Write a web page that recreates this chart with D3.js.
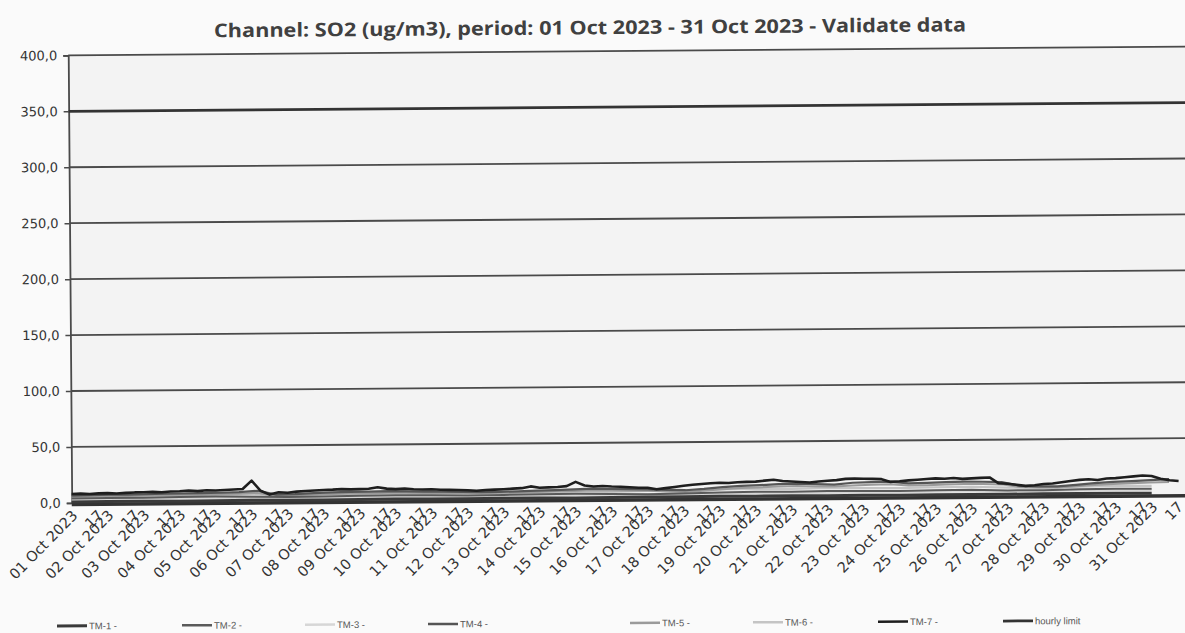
<!DOCTYPE html>
<html><head><meta charset="utf-8">
<script src="https://cdn.jsdelivr.net/npm/d3@7"></script>
<style>html,body{margin:0;padding:0;background:#fafafa;overflow:hidden}</style>
</head><body><svg id="chart" width="1185" height="633"></svg>
<script>
// ---------------- data ----------------
const title = "Channel: SO2 (ug/m3), period: 01 Oct 2023 - 31 Oct 2023 - Validate data";
const yTicks = [0, 50, 100, 150, 200, 250, 300, 350, 400];
const yTickLabels = ["0,0","50,0","100,0","150,0","200,0","250,0","300,0","350,0","400,0"];
const dayLabels = ["01 Oct 2023","02 Oct 2023","03 Oct 2023","04 Oct 2023","05 Oct 2023","06 Oct 2023","07 Oct 2023","08 Oct 2023","09 Oct 2023","10 Oct 2023","11 Oct 2023","12 Oct 2023","13 Oct 2023","14 Oct 2023","15 Oct 2023","16 Oct 2023","17 Oct 2023","18 Oct 2023","19 Oct 2023","20 Oct 2023","21 Oct 2023","22 Oct 2023","23 Oct 2023","24 Oct 2023","25 Oct 2023","26 Oct 2023","27 Oct 2023","28 Oct 2023","29 Oct 2023","30 Oct 2023","31 Oct 2023"];
const hourLabel = "17";
const seriesNames = ["TM-1 -","TM-2 -","TM-3 -","TM-4 -","TM-5 -","TM-6 -","TM-7 -","hourly limit"];

// daily values
const tm1 = [0.8,0.9,1.0,0.7,0.9,1.1,0.8,0.9,1.0,1.2,0.9,0.8,1.0,1.1,0.9,1.0,1.2,1.1,1.3,1.2,1.4,1.1,1.2,1.0,1.3,1.2,1.1,1.4,1.2,1.3,1.1];
const tm2 = [4.0,4.2,4.1,4.4,4.6,4.3,3.8,4.0,4.3,4.5,4.2,3.9,4.1,4.4,4.6,4.2,3.6,4.0,4.8,5.2,5.0,5.4,5.1,4.8,5.3,5.5,4.6,4.4,5.0,5.3,5.1];
const tm3 = [2.8,3.0,3.1,2.9,3.2,3.4,2.7,3.0,3.1,3.3,3.0,2.8,3.1,3.2,3.4,3.0,3.6,3.8,3.5,3.9,4.1,3.8,4.0,3.7,4.2,4.0,3.6,3.9,4.1,4.3,4.0];
const tm6 = [5.2,5.5,5.8,5.6,6.0,6.3,5.4,5.7,6.0,6.2,5.8,5.5,5.9,6.1,6.4,6.0,6.6,6.9,7.4,7.8,7.5,8.0,7.7,7.3,7.9,8.1,7.0,6.8,7.4,7.9,7.6];
// 12-hourly values
const tm4 = [6.5,6.8, 7.0,6.9, 7.2,7.5, 7.6,7.8, 8.0,8.4, 9.5,6.0, 6.2,7.0, 7.5,7.8, 8.0,8.2, 8.0,7.6,
             7.4,7.0, 6.8,6.9, 7.2,7.6, 8.0,8.5, 9.0,8.6, 8.4,8.0, 7.5,7.0, 8.0,9.5, 10.5,11.0, 11.8,12.2,
             11.5,11.0, 12.5,13.0, 13.2,11.5, 11.8,12.4, 12.8,12.5, 12.0,8.5, 8.0,7.8, 9.0,10.5, 11.5,12.0, 12.8,13.5];
const tm5 = [5.5,5.8, 6.0,5.7, 6.2,6.4, 6.5,6.3, 6.8,7.0, 7.5,5.0, 5.2,5.8, 6.2,6.5, 6.6,6.9, 6.7,6.4,
             6.2,6.0, 5.8,6.1, 6.3,6.5, 6.9,7.2, 7.6,7.2, 7.0,6.7, 6.0,5.5, 6.5,7.5, 8.5,9.0, 9.6,10.0,
             9.5,9.2, 10.0,10.5, 10.8,9.6, 9.8,10.2, 10.6,10.4, 10.0,7.5, 7.0,6.8, 7.8,8.8, 9.5,10.0, 10.6,11.0];
// 6-hourly values
const tm7 = [8.0,8.2,7.8,8.3, 8.5,8.1,8.6,8.9, 9.0,9.3,8.8,9.5, 9.7,10.1,9.6,10.3, 10.0,10.4,10.8,11.2,
             18.6,9.5,6.0,8.0, 7.5,8.5,9.0,9.4, 9.8,10.0,10.4,10.1, 10.3,10.6,11.8,10.5, 10.0,10.4,9.8,9.5,
             9.6,9.2,9.0,8.8, 8.5,8.0,8.6,8.9, 9.2,9.6,10.0,11.5, 10.2,10.5,10.8,11.5, 15.2,12.0,11.0,11.4,
             10.8,10.5,10.0,9.6, 9.5,8.0,9.0,10.0, 11.0,11.8,12.5,13.0, 13.5,13.2,13.8,14.0, 14.2,15.0,15.7,14.5,
             14.0,13.5,13.0,13.8, 14.5,15.0,16.0,16.2, 16.0,15.8,15.5,13.0, 13.5,14.2,14.8,15.3, 15.8,15.5,16.0,15.2,
             15.6,16.0,16.3,11.0, 10.5,9.5,8.5,9.0, 10.0,10.5,11.5,12.5, 13.5,14.0,13.2,14.5, 14.8,15.5,16.2,17.0,
             16.5,14.0,12.5,11.8];
const hourlyLimit = 350;

// ---------------- layout / style ----------------
const W = 1185, H = 633;
const t0 = Date.UTC(2023, 9, 1), t1 = Date.UTC(2023, 10, 1);
const x = d3.scaleUtc().domain([t0, t1]).range([70, 1186]);
const y = d3.scaleLinear().domain([0, 400]).range([498.5, 51]);

const styles = [
  {color:"#3a3a3a", width:3},    // TM-1
  {color:"#5a5a5a", width:2},    // TM-2
  {color:"#d6d6d6", width:2.5},  // TM-3
  {color:"#555555", width:2.2},  // TM-4
  {color:"#9a9a9a", width:2},    // TM-5
  {color:"#c4c4c4", width:2.2},  // TM-6
  {color:"#1e1e1e", width:2.6},  // TM-7
  {color:"#333333", width:2.8}   // hourly limit
];
const seriesData = [tm1, tm2, tm3, tm4, tm5, tm6, tm7];
const legendX = [57, 182, 305, 428, 630, 753, 878, 1003];

const svg = d3.select("#chart");
svg.append("rect").attr("width", W).attr("height", H).attr("fill", "#fafafa");
const g = svg.append("g").attr("transform", "rotate(-0.45,628,280)");

// plot background
g.append("rect").attr("x", 70).attr("y", y(400)).attr("width", 1200).attr("height", y(0) - y(400))
  .attr("fill", "#f3f3f3");

// title
g.append("text").attr("x", 592).attr("y", 34).attr("text-anchor", "middle")
  .attr("font-family", "'Open Sans', sans-serif").attr("font-weight", 700).attr("font-size", 19)
  .attr("fill", "#404040").attr("textLength", 752).attr("lengthAdjust", "spacingAndGlyphs")
  .text(title);

// gridlines
g.selectAll("line.grid").data(yTicks.filter(v => v > 0 && v !== hourlyLimit)).join("line")
  .attr("class", "grid").attr("x1", 70).attr("x2", 1240)
  .attr("y1", d => y(d)).attr("y2", d => y(d))
  .attr("stroke", "#4a4a4a").attr("stroke-width", 1.8);

// y axis
const yAxis = d3.axisLeft(y).tickValues(yTicks).tickSize(5).tickPadding(6)
  .tickFormat((d, i) => yTickLabels[i]);
const ya = g.append("g").attr("transform", "translate(70,0)").call(yAxis);
ya.select(".domain").attr("stroke", "#4a4a4a").attr("stroke-width", 1.8);
ya.selectAll(".tick line").attr("stroke", "#4a4a4a").attr("stroke-width", 1.5);
ya.selectAll(".tick text").attr("font-family", "'DejaVu Sans', sans-serif").attr("font-size", 13)
  .attr("fill", "#333");

// x axis baseline
g.append("line").attr("x1", 70).attr("x2", 1240).attr("y1", y(0) + 1.5).attr("y2", y(0) + 1.5)
  .attr("stroke", "#333", ).attr("stroke-width", 3.5);

// series
const stepOf = arr => (t1 - t0) / arr.length;
const line = arr => d3.line().x((d, i) => x(t0 + i * stepOf(arr))).y(d => y(d))(arr);
const drawOrder = [2, 5, 4, 1, 3, 0, 6];
drawOrder.forEach(k => {
  g.append("path").attr("d", line(seriesData[k])).attr("fill", "none")
    .attr("stroke", styles[k].color).attr("stroke-width", styles[k].width)
    .attr("stroke-linejoin", "round");
});
// hourly limit
g.append("line").attr("x1", x(t0)).attr("x2", 1240).attr("y1", y(hourlyLimit)).attr("y2", y(hourlyLimit))
  .attr("stroke", styles[7].color).attr("stroke-width", styles[7].width);

// x labels
const xl = g.append("g").attr("font-family", "'DejaVu Sans', sans-serif").attr("font-size", 14.5)
  .attr("fill", "#333");
dayLabels.forEach((lab, i) => {
  const px = x(Date.UTC(2023, 9, 1 + i)) + 3, py = y(0) + 10;
  xl.append("text").attr("transform", `translate(${px},${py}) rotate(-45)`)
    .attr("text-anchor", "end").attr("dy", "0.35em").text(lab);
  const qx = x(Date.UTC(2023, 9, 1 + i, 17)) + 3;
  xl.append("text").attr("transform", `translate(${qx},${py}) rotate(-45)`)
    .attr("text-anchor", "end").attr("dy", "0.35em").text(hourLabel);
});

// legend (outside the tilted group so it stays inside the frame)
const lg = svg.append("g").attr("transform", "rotate(-0.3,628,624)");
seriesNames.forEach((name, i) => {
  const lx = legendX[i], ly = 623;
  lg.append("line").attr("x1", lx).attr("x2", lx + 30).attr("y1", ly).attr("y2", ly)
    .attr("stroke", styles[i].color).attr("stroke-width", Math.max(styles[i].width, 2.5));
  lg.append("text").attr("x", lx + 32).attr("y", ly + 3.5)
    .attr("font-family", "'Liberation Sans', Arial, sans-serif").attr("font-size", 9.5)
    .attr("fill", "#555").text(name);
});
</script></body></html>
